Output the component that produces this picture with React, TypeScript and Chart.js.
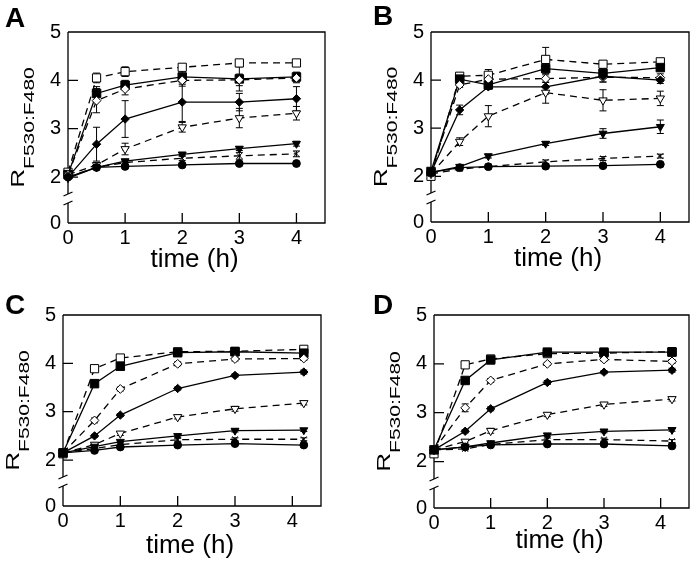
import React, { useEffect, useRef } from 'react';
import { Chart, registerables } from 'chart.js';

Chart.register(...registerables);

// ---------- data ----------
const timesAB = [0, 0.5, 1, 2, 3, 4];
const timesCD = [0, 0.55, 1, 2, 3, 4.2];
const xTickValues = [0, 1, 2, 3, 4];
const yTickValues = [2, 3, 4, 5];
const yBreakFloor = 1.05; // axis value sitting at the "0" label below the break
const xTickLabels = ['0', '1', '2', '3', '4'];
const yTitleMain = 'R';
const yTitleSub = 'F530:F480';
const xTitle = 'time (h)';

// Panel A
const aFilledCircle = [2.0, 2.2, 2.22, 2.25, 2.28, 2.28];
const aFilledTriangle = [1.98, 2.2, 2.33, 2.47, 2.59, 2.69];
const aCross = [2.0, 2.2, 2.3, 2.39, 2.44, 2.48];
const aOpenTriangle = [2.05, 2.25, 2.58, 3.03, 3.22, 3.32];
const aFilledDiamond = [2.0, 2.68, 3.2, 3.55, 3.55, 3.62];
const aOpenDiamond = [2.05, 3.58, 3.82, 4.0, 4.01, 4.05];
const aFilledSquare = [2.05, 3.73, 3.9, 4.07, 4.03, 4.07];
const aOpenSquare = [2.1, 4.05, 4.18, 4.27, 4.36, 4.36];
const aFilledCircleErr = [0, 0.03, 0.03, 0.03, 0.03, 0.03];
const aFilledTriangleErr = [0, 0.03, 0.04, 0.04, 0.04, 0.05];
const aCrossErr = [0, 0.03, 0.04, 0.05, 0.07, 0.06];
const aOpenTriangleErr = [0, 0.05, 0.12, 0.1, 0.2, 0.14];
const aFilledDiamondErr = [0, 0.35, 0.38, 0.4, 0.18, 0.25];
const aOpenDiamondErr = [0, 0.25, 0.12, 0.12, 0.12, 0.1];
const aFilledSquareErr = [0, 0.14, 0.1, 0.15, 0.25, 0.1];
const aOpenSquareErr = [0, 0.1, 0.1, 0.06, 0.05, 0.03];

// Panel B
const bFilledCircle = [2.08, 2.18, 2.2, 2.21, 2.22, 2.25];
const bFilledTriangle = [2.08, 2.2, 2.42, 2.68, 2.89, 3.03];
const bCross = [2.05, 2.15, 2.2, 2.3, 2.37, 2.42];
const bOpenTriangle = [2.05, 2.72, 3.25, 3.74, 3.58, 3.62];
const bFilledDiamond = [2.08, 3.38, 3.86, 3.86, 4.08, 4.0];
const bOpenDiamond = [2.08, 3.9, 4.02, 4.03, 4.06, 4.05];
const bFilledSquare = [2.1, 4.02, 3.9, 4.24, 4.14, 4.26];
const bOpenSquare = [2.0, 4.08, 4.1, 4.43, 4.33, 4.38];
const bFilledCircleErr = [0, 0.03, 0.03, 0.03, 0.03, 0.03];
const bFilledTriangleErr = [0, 0.03, 0.04, 0.04, 0.1, 0.14];
const bCrossErr = [0, 0.03, 0.03, 0.04, 0.04, 0.04];
const bOpenTriangleErr = [0, 0.08, 0.22, 0.22, 0.22, 0.15];
const bFilledDiamondErr = [0, 0.1, 0.05, 0.15, 0.12, 0.07];
const bOpenDiamondErr = [0, 0.05, 0.05, 0.08, 0.1, 0.08];
const bFilledSquareErr = [0, 0.05, 0.05, 0.1, 0.1, 0.05];
const bOpenSquareErr = [0, 0.05, 0.12, 0.25, 0.06, 0.04];

// Panel C
const cFilledCircle = [2.15, 2.2, 2.27, 2.31, 2.34, 2.31];
const cFilledTriangle = [2.15, 2.28, 2.38, 2.5, 2.61, 2.62];
const cCross = [2.15, 2.24, 2.32, 2.42, 2.43, 2.43];
const cOpenTriangle = [2.15, 2.32, 2.55, 2.89, 3.06, 3.18];
const cFilledDiamond = [2.15, 2.5, 2.93, 3.48, 3.75, 3.82];
const cOpenDiamond = [2.15, 2.82, 3.47, 3.99, 4.09, 4.1];
const cFilledSquare = [2.15, 3.58, 3.94, 4.22, 4.24, 4.21];
const cOpenSquare = [2.13, 3.89, 4.11, 4.24, 4.25, 4.29];
const cFilledCircleErr = [0, 0.02, 0.02, 0.02, 0.02, 0.03];
const cFilledTriangleErr = [0, 0.02, 0.02, 0.03, 0.03, 0.03];
const cCrossErr = [0, 0.02, 0.03, 0.03, 0.03, 0.03];
const cOpenTriangleErr = [0, 0.03, 0.04, 0.04, 0.05, 0.04];
const cFilledDiamondErr = [0, 0.03, 0.03, 0.03, 0.03, 0.04];
const cOpenDiamondErr = [0, 0.05, 0.04, 0.04, 0.04, 0.04];
const cFilledSquareErr = [0, 0.03, 0.03, 0.03, 0.03, 0.03];
const cOpenSquareErr = [0, 0.03, 0.03, 0.04, 0.03, 0.03];

// Panel D
const dFilledCircle = [2.24, 2.3, 2.34, 2.36, 2.36, 2.32];
const dFilledTriangle = [2.24, 2.3, 2.38, 2.54, 2.62, 2.65];
const dCross = [2.24, 2.26, 2.35, 2.45, 2.45, 2.42];
const dOpenTriangle = [2.24, 2.41, 2.63, 2.96, 3.17, 3.28];
const dFilledDiamond = [2.24, 2.62, 3.08, 3.62, 3.83, 3.87];
const dOpenDiamond = [2.24, 3.1, 3.66, 4.0, 4.09, 4.05];
const dFilledSquare = [2.24, 3.66, 4.08, 4.24, 4.24, 4.24];
const dOpenSquare = [2.16, 3.98, 4.1, 4.21, 4.22, 4.25];
const dFilledCircleErr = [0, 0.02, 0.02, 0.02, 0.02, 0.03];
const dFilledTriangleErr = [0, 0.02, 0.02, 0.03, 0.03, 0.03];
const dCrossErr = [0, 0.02, 0.03, 0.03, 0.03, 0.03];
const dOpenTriangleErr = [0, 0.03, 0.05, 0.04, 0.04, 0.04];
const dFilledDiamondErr = [0, 0.03, 0.04, 0.04, 0.03, 0.04];
const dOpenDiamondErr = [0, 0.08, 0.04, 0.03, 0.03, 0.04];
const dFilledSquareErr = [0, 0.03, 0.03, 0.03, 0.03, 0.03];
const dOpenSquareErr = [0, 0.03, 0.03, 0.04, 0.03, 0.03];

// ---------- styles ----------
const FONT = '"Liberation Sans", Arial, Helvetica, sans-serif';
const seriesStyles = [
  { name: 'filled circle', pointStyle: 'circle', radius: 3.9, rotation: 0, filled: true, dashed: false },
  { name: 'filled triangle', pointStyle: 'triangle', radius: 4.6, rotation: 180, filled: true, dashed: false },
  { name: 'cross', pointStyle: 'crossRot', radius: 4, rotation: 0, filled: true, dashed: true },
  { name: 'open triangle', pointStyle: 'triangle', radius: 4.8, rotation: 180, filled: false, dashed: true },
  { name: 'filled diamond', pointStyle: 'rectRot', radius: 4.2, rotation: 0, filled: true, dashed: false },
  { name: 'open diamond', pointStyle: 'rectRot', radius: 4.4, rotation: 0, filled: false, dashed: true },
  { name: 'filled square', pointStyle: 'rect', radius: 6, rotation: 0, filled: true, dashed: false },
  { name: 'open square', pointStyle: 'rect', radius: 5.8, rotation: 0, filled: false, dashed: true },
];

type Panel = {
  letter: string;
  cellX: number;
  cellY: number;
  plot: { l: number; t: number; r: number; b: number };
  times: number[];
  series: number[][];
  errors: number[][];
  letterPos: [number, number];
  xTitleDy: number;
};

const CELL_W = 348;
const CELL_H = 282;

const panels: Panel[] = [
  {
    letter: 'A', cellX: 0, cellY: 0,
    plot: { l: 68, t: 32, r: 325, b: 223 },
    times: timesAB,
    series: [aFilledCircle, aFilledTriangle, aCross, aOpenTriangle, aFilledDiamond, aOpenDiamond, aFilledSquare, aOpenSquare],
    errors: [aFilledCircleErr, aFilledTriangleErr, aCrossErr, aOpenTriangleErr, aFilledDiamondErr, aOpenDiamondErr, aFilledSquareErr, aOpenSquareErr],
    letterPos: [5, 27], xTitleDy: 44,
  },
  {
    letter: 'B', cellX: 348, cellY: 0,
    plot: { l: 431, t: 32, r: 689, b: 222 },
    times: timesAB,
    series: [bFilledCircle, bFilledTriangle, bCross, bOpenTriangle, bFilledDiamond, bOpenDiamond, bFilledSquare, bOpenSquare],
    errors: [bFilledCircleErr, bFilledTriangleErr, bCrossErr, bOpenTriangleErr, bFilledDiamondErr, bOpenDiamondErr, bFilledSquareErr, bOpenSquareErr],
    letterPos: [25, 25], xTitleDy: 44,
  },
  {
    letter: 'C', cellX: 0, cellY: 282,
    plot: { l: 63, t: 315, r: 321, b: 506 },
    times: timesCD,
    series: [cFilledCircle, cFilledTriangle, cCross, cOpenTriangle, cFilledDiamond, cOpenDiamond, cFilledSquare, cOpenSquare],
    errors: [cFilledCircleErr, cFilledTriangleErr, cCrossErr, cOpenTriangleErr, cFilledDiamondErr, cOpenDiamondErr, cFilledSquareErr, cOpenSquareErr],
    letterPos: [5, 32], xTitleDy: 47,
  },
  {
    letter: 'D', cellX: 348, cellY: 282,
    plot: { l: 434, t: 315, r: 690, b: 508 },
    times: timesCD,
    series: [dFilledCircle, dFilledTriangle, dCross, dOpenTriangle, dFilledDiamond, dOpenDiamond, dFilledSquare, dOpenSquare],
    errors: [dFilledCircleErr, dFilledTriangleErr, dCrossErr, dOpenTriangleErr, dFilledDiamondErr, dOpenDiamondErr, dFilledSquareErr, dOpenSquareErr],
    letterPos: [25, 32], xTitleDy: 40,
  },
];

function PanelChart({ p }: { p: Panel }) {
  const ref = useRef<HTMLCanvasElement | null>(null);
  useEffect(() => {
    if (!ref.current) return;
    const plotL = p.plot.l - p.cellX;
    const plotT = p.plot.t - p.cellY;
    const plotR = p.plot.r - p.cellX;
    const plotB = p.plot.b - p.cellY;

    const decorations = {
      id: 'decorations',
      beforeDatasetsDraw(chart: any) {
        const ctx = chart.ctx;
        const { left, right, top, bottom } = chart.chartArea;
        const xs = chart.scales.x;
        const ys = chart.scales.y;
        ctx.save();
        ctx.strokeStyle = '#000';
        ctx.lineWidth = 1.3;
        ctx.lineCap = 'butt';
        // frame (top, right, bottom)
        ctx.beginPath();
        ctx.moveTo(left, top);
        ctx.lineTo(right, top);
        ctx.lineTo(right, bottom);
        ctx.lineTo(left, bottom);
        ctx.stroke();
        // left axis with break
        const gapLow = bottom - 20;
        const gapHigh = bottom - 29;
        ctx.beginPath();
        ctx.moveTo(left, bottom);
        ctx.lineTo(left, gapLow);
        ctx.moveTo(left, gapHigh);
        ctx.lineTo(left, top);
        ctx.stroke();
        ctx.beginPath();
        ctx.moveTo(left - 4.5, gapLow + 2);
        ctx.lineTo(left + 4.5, gapLow - 2);
        ctx.moveTo(left - 4.5, gapHigh + 2);
        ctx.lineTo(left + 4.5, gapHigh - 2);
        ctx.stroke();
        // inward ticks
        ctx.beginPath();
        yTickValues.forEach((v) => {
          if (v >= 5) return;
          const y = ys.getPixelForValue(v);
          ctx.moveTo(left, y);
          ctx.lineTo(left + 10, y);
        });
        xTickValues.forEach((v) => {
          if (v <= 0) return;
          const x = xs.getPixelForValue(v);
          ctx.moveTo(x, bottom);
          ctx.lineTo(x, bottom - 10);
        });
        ctx.stroke();
        // error bars
        ctx.lineWidth = 1;
        p.series.forEach((vals, si) => {
          const errs = p.errors[si];
          vals.forEach((v, i) => {
            const e = errs[i];
            if (!e) return;
            const x = xs.getPixelForValue(p.times[i]);
            const y1 = ys.getPixelForValue(v + e);
            const y2 = ys.getPixelForValue(v - e);
            ctx.beginPath();
            ctx.moveTo(x, y1);
            ctx.lineTo(x, y2);
            ctx.moveTo(x - 3.5, y1);
            ctx.lineTo(x + 3.5, y1);
            ctx.moveTo(x - 3.5, y2);
            ctx.lineTo(x + 3.5, y2);
            ctx.stroke();
          });
        });
        ctx.restore();
      },
      afterDraw(chart: any) {
        const ctx = chart.ctx;
        const { left, right, top, bottom } = chart.chartArea;
        ctx.save();
        ctx.fillStyle = '#000';
        // panel letter
        ctx.font = `bold 28px ${FONT}`;
        ctx.textBaseline = 'alphabetic';
        ctx.textAlign = 'left';
        ctx.fillText(p.letter, p.letterPos[0], p.letterPos[1]);
        // x title
        ctx.font = `26px ${FONT}`;
        ctx.textAlign = 'center';
        ctx.fillText(xTitle, (left + right) / 2 - 2, bottom + p.xTitleDy);
        // y title (R with subscript), stretched along its direction
        const stretch = 1.45;
        ctx.translate(left - 34, (top + bottom) / 2);
        ctx.rotate(-Math.PI / 2);
        ctx.scale(stretch, 1);
        ctx.textAlign = 'left';
        ctx.font = `18px ${FONT}`;
        const wR = ctx.measureText(yTitleMain).width;
        ctx.font = `14.5px ${FONT}`;
        const wS = ctx.measureText(yTitleSub).width;
        const start = -(wR + wS) / 2;
        ctx.font = `18px ${FONT}`;
        ctx.fillText(yTitleMain, start, -10);
        ctx.font = `14.5px ${FONT}`;
        ctx.fillText(yTitleSub, start + wR, 0);
        ctx.restore();
      },
    };

    const datasets = seriesStyles.map((s, i) => ({
      label: s.name,
      data: p.times.map((t, j) => ({ x: t, y: p.series[i][j] })),
      borderColor: '#000',
      backgroundColor: s.filled ? '#000' : '#fff',
      borderWidth: 1.3,
      borderDash: s.dashed ? [7, 5] : [],
      pointStyle: s.pointStyle,
      pointRadius: s.radius,
      pointRotation: s.rotation,
      pointBorderWidth: 1,
      pointBackgroundColor: s.filled ? '#000' : '#fff',
      pointBorderColor: '#000',
      fill: false,
      tension: 0,
      clip: false,
    }));

    const chart = new Chart(ref.current, {
      type: 'line',
      data: { datasets },
      options: {
        responsive: false,
        animation: false,
        devicePixelRatio: 1,
        layout: { padding: { top: plotT, right: CELL_W - plotR, left: 0, bottom: 0 } },
        plugins: { legend: { display: false }, tooltip: { enabled: false }, title: { display: false } },
        scales: {
          x: {
            type: 'linear',
            min: 0,
            max: 4.5,
            grid: { display: false, drawTicks: false },
            border: { display: false },
            afterBuildTicks: (s: any) => {
              s.ticks = xTickValues.map((v) => ({ value: v }));
            },
            afterFit: (s: any) => {
              s.height = CELL_H - plotB;
            },
            ticks: {
              autoSkip: false,
              maxRotation: 0,
              padding: 3,
              color: '#000',
              font: { size: 20, family: FONT },
              callback: (v: any, i: number) => xTickLabels[i] ?? String(v),
            },
          },
          y: {
            type: 'linear',
            min: yBreakFloor,
            max: 5,
            grid: { display: false, drawTicks: false },
            border: { display: false },
            afterBuildTicks: (s: any) => {
              s.ticks = [yBreakFloor, ...yTickValues].map((v) => ({ value: v }));
            },
            afterFit: (s: any) => {
              s.width = plotL;
            },
            ticks: {
              autoSkip: false,
              padding: 7,
              color: '#000',
              font: { size: 20, family: FONT },
              callback: (v: any) => (v === yBreakFloor ? '0' : String(v)),
            },
          },
        },
      },
      plugins: [decorations],
    } as any);
    return () => chart.destroy();
  }, [p]);

  return (
    <canvas
      ref={ref}
      width={CELL_W}
      height={CELL_H}
      style={{ position: 'absolute', left: p.cellX, top: p.cellY, width: CELL_W, height: CELL_H }}
    />
  );
}

export default function App() {
  return (
    <div style={{ position: 'absolute', left: 0, top: 0, width: 696, height: 564, background: '#fff' }}>
      {panels.map((p) => (
        <PanelChart key={p.letter} p={p} />
      ))}
    </div>
  );
}
